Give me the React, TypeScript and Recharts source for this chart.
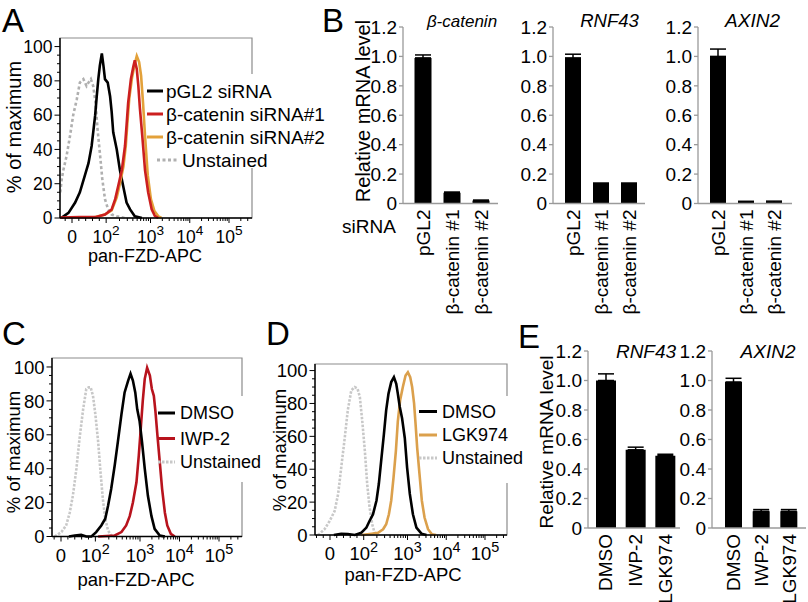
import React from 'react'
import { LineChart, Line, XAxis, YAxis, ReferenceArea, BarChart, Bar, ErrorBar } from 'recharts'

type Pt = [number, number]

// ---- flow histograms: x in display units of the biexponential axis ----
const histMajorPos = [0, 0.87, 2, 3, 4]
const histMajorBase = ['0', '10', '10', '10', '10']
const histMajorExp = ['', '2', '3', '4', '5']
const histYMajor = [0, 20, 40, 60, 80, 100]

// A: pan-FZD after siRNA
const aPgl2: Pt[] = [[-0.26, 0.2], [-0.09, 3], [0.08, 9], [0.2, 15], [0.33, 25], [0.42, 32], [0.5, 42], [0.54, 50], [0.59, 60], [0.63, 71], [0.67, 81], [0.71, 89], [0.76, 96], [0.8, 89], [0.84, 81], [0.91, 79], [0.97, 71], [1.01, 62], [1.05, 50], [1.14, 40], [1.22, 28], [1.31, 18], [1.39, 9], [1.48, 5], [1.6, 1], [1.78, 0]]
const aSi1: Pt[] = [[-0.3, 0.3], [0.2, 0.5], [0.59, 0.5], [0.84, 2], [1.01, 5], [1.1, 11], [1.18, 19], [1.27, 28], [1.35, 42], [1.39, 54], [1.43, 67], [1.5, 81], [1.56, 88], [1.6, 92], [1.65, 87], [1.69, 77], [1.73, 64], [1.79, 48], [1.86, 28], [1.94, 15], [2.03, 5], [2.11, 1.2], [2.2, 0]]
const aSi2: Pt[] = [[0.5, 0], [0.84, 2], [1.01, 4.5], [1.14, 12], [1.22, 20], [1.31, 30], [1.37, 42], [1.41, 55], [1.46, 70], [1.53, 82], [1.6, 90], [1.65, 94.5], [1.71, 91], [1.76, 83], [1.81, 67], [1.86, 48], [1.93, 25], [2.01, 11], [2.1, 4], [2.2, 1], [2.28, 0]]
const aUnst: Pt[] = [[-0.3, 15], [-0.26, 23], [-0.22, 28], [-0.14, 36], [-0.05, 48], [0.03, 60], [0.12, 69], [0.2, 79], [0.29, 81], [0.37, 77], [0.42, 79], [0.48, 81], [0.54, 77], [0.6, 67], [0.65, 52], [0.71, 38], [0.77, 23], [0.84, 11], [0.92, 5], [1.01, 2], [1.14, 1], [1.35, 0]]

// C: DMSO vs IWP-2
const cDmso: Pt[] = [[0.2, 0], [0.35, 0.6], [0.51, 1], [0.64, 0], [0.77, 0], [0.89, 2.6], [1.02, 6.5], [1.12, 10.5], [1.19, 18], [1.27, 28], [1.36, 42], [1.44, 56], [1.53, 72], [1.61, 85], [1.7, 92], [1.76, 96], [1.82, 92], [1.88, 85], [1.93, 75], [1.99, 68], [2.05, 56], [2.12, 40], [2.2, 24], [2.29, 12], [2.37, 4.5], [2.5, 0.6], [2.63, 0]]
const cIwp2: Pt[] = [[0.94, 0], [1.36, 0.6], [1.53, 2.6], [1.65, 6.5], [1.74, 12], [1.82, 20], [1.91, 32], [1.97, 48], [2.02, 64], [2.07, 80], [2.12, 93], [2.18, 99.6], [2.25, 95], [2.3, 87], [2.35, 83], [2.39, 74], [2.44, 60], [2.5, 44], [2.56, 28], [2.63, 14], [2.69, 6.5], [2.78, 1.6], [2.88, 0]]
const cUnst: Pt[] = [[-0.16, 0], [0.01, 2.6], [0.13, 6.5], [0.22, 14], [0.3, 24], [0.39, 40], [0.47, 58], [0.56, 75], [0.64, 87], [0.7, 88], [0.75, 88], [0.81, 83], [0.87, 72], [0.94, 56], [1.0, 38], [1.06, 22], [1.12, 10.5], [1.19, 3.6], [1.27, 0.6], [1.36, 0]]

// D: DMSO vs LGK974
const dDmso: Pt[] = [[0.1, 0], [0.29, 0.8], [0.46, 0.6], [0.64, 0], [0.81, 1.4], [0.94, 4.5], [1.02, 8.5], [1.11, 12.6], [1.2, 21], [1.26, 31], [1.32, 45], [1.39, 61], [1.45, 76], [1.51, 86], [1.58, 93], [1.65, 96], [1.71, 92], [1.75, 86], [1.8, 78], [1.86, 71], [1.93, 59], [1.99, 41], [2.06, 25], [2.14, 12.6], [2.23, 4.5], [2.36, 0.8], [2.49, 0]]
const dLgk: Pt[] = [[0.81, 0], [1.07, 0.8], [1.24, 1.4], [1.37, 3.5], [1.45, 6.5], [1.52, 12.6], [1.58, 21], [1.64, 35], [1.7, 51], [1.75, 69], [1.81, 82], [1.88, 90], [1.95, 97], [2.01, 99], [2.07, 96], [2.12, 90], [2.17, 80], [2.21, 67], [2.25, 53], [2.31, 37], [2.37, 21], [2.44, 10.6], [2.53, 3.5], [2.63, 0.4], [2.74, 0]]
const dUnst: Pt[] = [[-0.31, 0], [-0.14, 3.5], [-0.01, 8.5], [0.12, 14.6], [0.21, 25], [0.29, 41], [0.38, 59], [0.46, 76], [0.55, 88], [0.64, 90], [0.71, 89], [0.77, 84], [0.83, 70], [0.9, 51], [0.96, 31], [1.02, 17], [1.09, 6.5], [1.15, 1.4], [1.24, 0]]

// ---- qPCR bars ----
const bCats = ['pGL2', 'β-catenin #1', 'β-catenin #2']
const bCateninVals = [0.99, 0.073, 0.02]
const bCateninErr = [0.02, 0.005, 0.003]
const bRnf43Vals = [0.99, 0.135, 0.135]
const bRnf43Err = [0.025, 0.004, 0.004]
const bAxin2Vals = [1.0, 0.01, 0.01]
const bAxin2Err = [0.05, 0.005, 0.006]

const eCats = ['DMSO', 'IWP-2', 'LGK974']
const eRnf43Vals = [1.0, 0.53, 0.49]
const eRnf43Err = [0.045, 0.018, 0.01]
const eAxin2Vals = [0.99, 0.113, 0.113]
const eAxin2Err = [0.025, 0.012, 0.012]

const barYTicks = [0, 0.2, 0.4, 0.6, 0.8, 1.0, 1.2]

const FONT = '"Liberation Sans", Arial, Helvetica, sans-serif'
const RED_A = '#cc1f1f'
const ORANGE_A = '#e3a13a'
const RED_C = '#b8131d'
const ORANGE_D = '#dba04c'

// minor ticks of the biexponential axis
const histMinorPos: number[] = [-0.348, -0.174, 0.174, 0.348, 0.522, 0.696]
for (const [s, w] of [[0.87, 1.13], [2, 1], [3, 1], [4, 1]]) {
  for (let k = 2; k < 10; k++) histMinorPos.push(s + w * Math.log10(k))
}
const histYTicks: number[] = []
for (let v = 0; v <= 100; v += 5) histYTicks.push(v)

const toXY = (pts: Pt[]) => pts.map(([x, y]) => ({ x, y }))

function HistXTick(props: any) {
  const { x, y, payload, fs } = props
  const i = histMajorPos.indexOf(payload.value)
  const major = i >= 0
  return (
    <g>
      <line x1={x} x2={x} y1={y} y2={y + (major ? 5 : 3)} stroke="#000" strokeWidth={1} />
      {major && (
        <text x={x} y={y + 25} textAnchor="middle" fontSize={fs} fill="#000">
          {histMajorBase[i]}
          {histMajorExp[i] && (
            <tspan dy={-8} fontSize={fs * 0.78}>
              {histMajorExp[i]}
            </tspan>
          )}
        </text>
      )}
    </g>
  )
}

function HistYTick(props: any) {
  const { x, y, payload, fs } = props
  const major = histYMajor.includes(payload.value)
  return (
    <g>
      <line x1={x - (major ? 5.5 : 3)} x2={x} y1={y} y2={y} stroke="#000" strokeWidth={1} />
      {major && (
        <text x={x - 7.5} y={y} dy={fs * 0.36} textAnchor="end" fontSize={fs} fill="#000">
          {payload.value}
        </text>
      )}
    </g>
  )
}

interface HistLine {
  pts: Pt[]
  color: string
  dash?: string
}

function Histogram(p: {
  left: number
  top: number
  w: number
  h: number
  xMin: number
  xMax: number
  yMax: number
  fs: number
  lines: HistLine[]
}) {
  const YW = 50
  const XH = 40
  const MT = 4
  const MR = 4
  const ticksX = [...histMajorPos, ...histMinorPos].filter(v => v >= p.xMin && v <= p.xMax).sort((a, b) => a - b)
  return (
    <div style={{ position: 'absolute', left: p.left - YW, top: p.top - MT }}>
      <LineChart width={YW + p.w + MR} height={MT + p.h + XH} margin={{ top: MT, right: MR, bottom: 0, left: 0 }}>
        <ReferenceArea x1={p.xMin} x2={p.xMax} y1={0} y2={p.yMax} fill="none" stroke="#8c8c8c" strokeWidth={1.2} />
        <XAxis
          type="number"
          dataKey="x"
          domain={[p.xMin, p.xMax]}
          ticks={ticksX}
          interval={0}
          height={XH}
          tickSize={0}
          tickMargin={0}
          tickLine={false}
          axisLine={{ stroke: '#000', strokeWidth: 1.4 }}
          tick={(t: any) => <HistXTick {...t} fs={p.fs} />}
        />
        <YAxis
          type="number"
          domain={[0, p.yMax]}
          ticks={histYTicks}
          interval={0}
          width={YW}
          tickSize={0}
          tickMargin={0}
          tickLine={false}
          axisLine={{ stroke: '#000', strokeWidth: 1.4 }}
          tick={(t: any) => <HistYTick {...t} fs={p.fs} />}
        />
        {p.lines.map((l, i) => (
          <Line
            key={i}
            data={toXY(l.pts)}
            dataKey="y"
            type="linear"
            stroke={l.color}
            strokeWidth={2.6}
            strokeDasharray={l.dash}
            dot={false}
            activeDot={false}
            isAnimationActive={false}
          />
        ))}
      </LineChart>
    </div>
  )
}

function CatTick(props: any) {
  const { x, y, payload, fs } = props
  const ty = y + 6
  return (
    <text
      x={x}
      y={ty}
      transform={`rotate(-90 ${x} ${ty})`}
      textAnchor="end"
      dominantBaseline="central"
      fontSize={fs}
      fill="#000"
    >
      {payload.value}
    </text>
  )
}

function BarPanel(p: {
  axisX: number
  axisEnd: number
  y0: number
  y12: number
  cats: string[]
  vals: number[]
  errs: number[]
  barSize: number
  padL: number
  padR: number
  fs: number
}) {
  const YW = 45
  const MT = 10
  const XH = 120
  const w = p.axisEnd - p.axisX
  const h = p.y0 - p.y12
  const data = p.cats.map((c, i) => ({ c, v: p.vals[i], e: [0, p.errs[i]] }))
  return (
    <div style={{ position: 'absolute', left: p.axisX - YW, top: p.y12 - MT }}>
      <BarChart width={YW + w + 2} height={MT + h + XH} data={data} margin={{ top: MT, right: 2, bottom: 0, left: 0 }}>
        <XAxis
          dataKey="c"
          height={XH}
          interval={0}
          tickSize={0}
          tickMargin={0}
          tickLine={false}
          padding={{ left: p.padL, right: p.padR }}
          axisLine={{ stroke: '#9a9a9a', strokeWidth: 1.3 }}
          tick={(t: any) => <CatTick {...t} fs={p.fs} />}
        />
        <YAxis
          type="number"
          domain={[0, 1.2]}
          ticks={barYTicks}
          interval={0}
          width={YW}
          tickSize={4}
          tickMargin={2}
          axisLine={{ stroke: '#9a9a9a', strokeWidth: 1.3 }}
          tickLine={{ stroke: '#9a9a9a', strokeWidth: 1.3 }}
          tick={{ fill: '#000', fontSize: p.fs }}
          tickFormatter={(v: number) => (v === 0 ? '0' : v.toFixed(1))}
        />
        <Bar dataKey="v" fill="#000" barSize={p.barSize} isAnimationActive={false}>
          <ErrorBar dataKey="e" width={8} stroke="#000" strokeWidth={1.5} />
        </Bar>
      </BarChart>
    </div>
  )
}

function LegendRow(p: { x: number; y: number; color: string; dash?: string; label: string; fs: number; x1: number; x2: number }) {
  return (
    <g>
      <line x1={p.x1} x2={p.x2} y1={p.y} y2={p.y} stroke={p.color} strokeWidth={3} strokeDasharray={p.dash} />
      <text x={p.x} y={p.y + p.fs * 0.36} fontSize={p.fs} fill="#000">
        {p.label}
      </text>
    </g>
  )
}

export default function App() {
  return (
    <div
      style={{
        position: 'absolute',
        left: 0,
        top: 0,
        width: 808,
        height: 602,
        background: '#fff',
        overflow: 'hidden',
        fontFamily: FONT,
      }}
    >
      {/* A */}
      <Histogram
        left={60}
        top={37.5}
        w={192}
        h={180}
        xMin={-0.306}
        xMax={4.586}
        yMax={105}
        fs={17.5}
        lines={[
          { pts: aUnst, color: '#b0b0b0', dash: '3 2.5' },
          { pts: aPgl2, color: '#000' },
          { pts: aSi2, color: ORANGE_A },
          { pts: aSi1, color: RED_A },
        ]}
      />
      {/* B */}
      <BarPanel axisX={403} axisEnd={498} y0={203} y12={26.5} cats={bCats} vals={bCateninVals} errs={bCateninErr} barSize={17} padL={5.5} padR={2.5} fs={19} />
      <BarPanel axisX={553} axisEnd={645} y0={203} y12={26.5} cats={bCats} vals={bRnf43Vals} errs={bRnf43Err} barSize={16} padL={6} padR={2} fs={19} />
      <BarPanel axisX={698} axisEnd={792} y0={203} y12={26.5} cats={bCats} vals={bAxin2Vals} errs={bAxin2Err} barSize={16} padL={6} padR={4} fs={19} />
      {/* C */}
      <Histogram
        left={52}
        top={358}
        w={190}
        h={178.5}
        xMin={-0.228}
        xMax={4.582}
        yMax={105.3}
        fs={18.5}
        lines={[
          { pts: cUnst, color: '#c8c8c8', dash: '2.5 1.5' },
          { pts: cIwp2, color: RED_C },
          { pts: cDmso, color: '#000' },
        ]}
      />
      {/* D */}
      <Histogram
        left={315}
        top={364}
        w={192}
        h={171}
        xMin={-0.387}
        xMax={4.568}
        yMax={104}
        fs={18.5}
        lines={[
          { pts: dUnst, color: '#c8c8c8', dash: '2.5 1.5' },
          { pts: dLgk, color: ORANGE_D },
          { pts: dDmso, color: '#000' },
        ]}
      />
      {/* E */}
      <BarPanel axisX={588} axisEnd={680} y0={527.7} y12={350.7} cats={eCats} vals={eRnf43Vals} errs={eRnf43Err} barSize={20} padL={3} padR={0} fs={19} />
      <BarPanel axisX={712} axisEnd={806} y0={527.7} y12={350.7} cats={eCats} vals={eAxin2Vals} errs={eAxin2Err} barSize={17} padL={8} padR={3} fs={19} />

      <svg width={808} height={602} style={{ position: 'absolute', left: 0, top: 0, pointerEvents: 'none' }} fontFamily={FONT}>
        {/* panel letters */}
        <g fontSize={33} fill="#000">
          <text x={2} y={32}>A</text>
          <text x={322} y={32}>B</text>
          <text x={2} y={345}>C</text>
          <text x={266} y={345}>D</text>
          <text x={518} y={348}>E</text>
        </g>

        {/* A titles + legend */}
        <text x={21} y={127} fontSize={20} textAnchor="middle" transform="rotate(-90 21 127)">% of maximum</text>
        <text x={145} y={262} fontSize={18} textAnchor="middle">pan-FZD-APC</text>
        <rect x={163} y={74} width={180} height={94} fill="#fff" />
        <LegendRow x={166} x1={147} x2={163} y={91} color="#000" label="pGL2 siRNA" fs={19} />
        <LegendRow x={166} x1={147} x2={163} y={114} color={RED_A} label="β-catenin siRNA#1" fs={19} />
        <LegendRow x={166} x1={147} x2={163} y={137} color={ORANGE_A} label="β-catenin siRNA#2" fs={19} />
        <LegendRow x={182} x1={157} x2={178} y={160} color="#b0b0b0" dash="3 2.5" label="Unstained" fs={19} />

        {/* B titles */}
        <text x={370} y={111} fontSize={20} textAnchor="middle" transform="rotate(-90 370 111)">Relative mRNA level</text>
        <text x={342} y={233} fontSize={19}>siRNA</text>
        <g fontStyle="italic" textAnchor="middle">
          <text x={462} y={27} fontSize={17}>β-catenin</text>
          <text x={609.5} y={27} fontSize={18.5}>RNF43</text>
          <text x={752.5} y={27} fontSize={19}>AXIN2</text>
        </g>

        {/* C titles + legend */}
        <text x={20} y={452} fontSize={18.5} textAnchor="middle" transform="rotate(-90 20 452)">% of maximum</text>
        <text x={136} y={586} fontSize={18.5} textAnchor="middle">pan-FZD-APC</text>
        <rect x={177} y={396} width={92} height={86} fill="#fff" />
        <LegendRow x={180} x1={158} x2={175} y={413} color="#000" label="DMSO" fs={18} />
        <LegendRow x={180} x1={158} x2={175} y={438.5} color={RED_C} label="IWP-2" fs={18} />
        <LegendRow x={180} x1={158} x2={175} y={462} color="#c8c8c8" dash="2.5 1.5" label="Unstained" fs={18} />

        {/* D titles + legend */}
        <text x={286} y={450} fontSize={18.5} textAnchor="middle" transform="rotate(-90 286 450)">% of maximum</text>
        <text x={403} y={581} fontSize={18.5} textAnchor="middle">pan-FZD-APC</text>
        <rect x={439} y={396} width={92} height={87} fill="#fff" />
        <LegendRow x={442} x1={419} x2={437} y={411.5} color="#000" label="DMSO" fs={18} />
        <LegendRow x={442} x1={419} x2={437} y={435} color={ORANGE_D} label="LGK974" fs={18} />
        <LegendRow x={442} x1={419} x2={437} y={458} color="#c8c8c8" dash="2.5 1.5" label="Unstained" fs={18} />

        {/* E titles */}
        <text x={553} y={442} fontSize={19} textAnchor="middle" transform="rotate(-90 553 442)">Relative mRNA level</text>
        <g fontStyle="italic" textAnchor="middle" fontSize={19}>
          <text x={646} y={358}>RNF43</text>
          <text x={768} y={358}>AXIN2</text>
        </g>
      </svg>
    </div>
  )
}
